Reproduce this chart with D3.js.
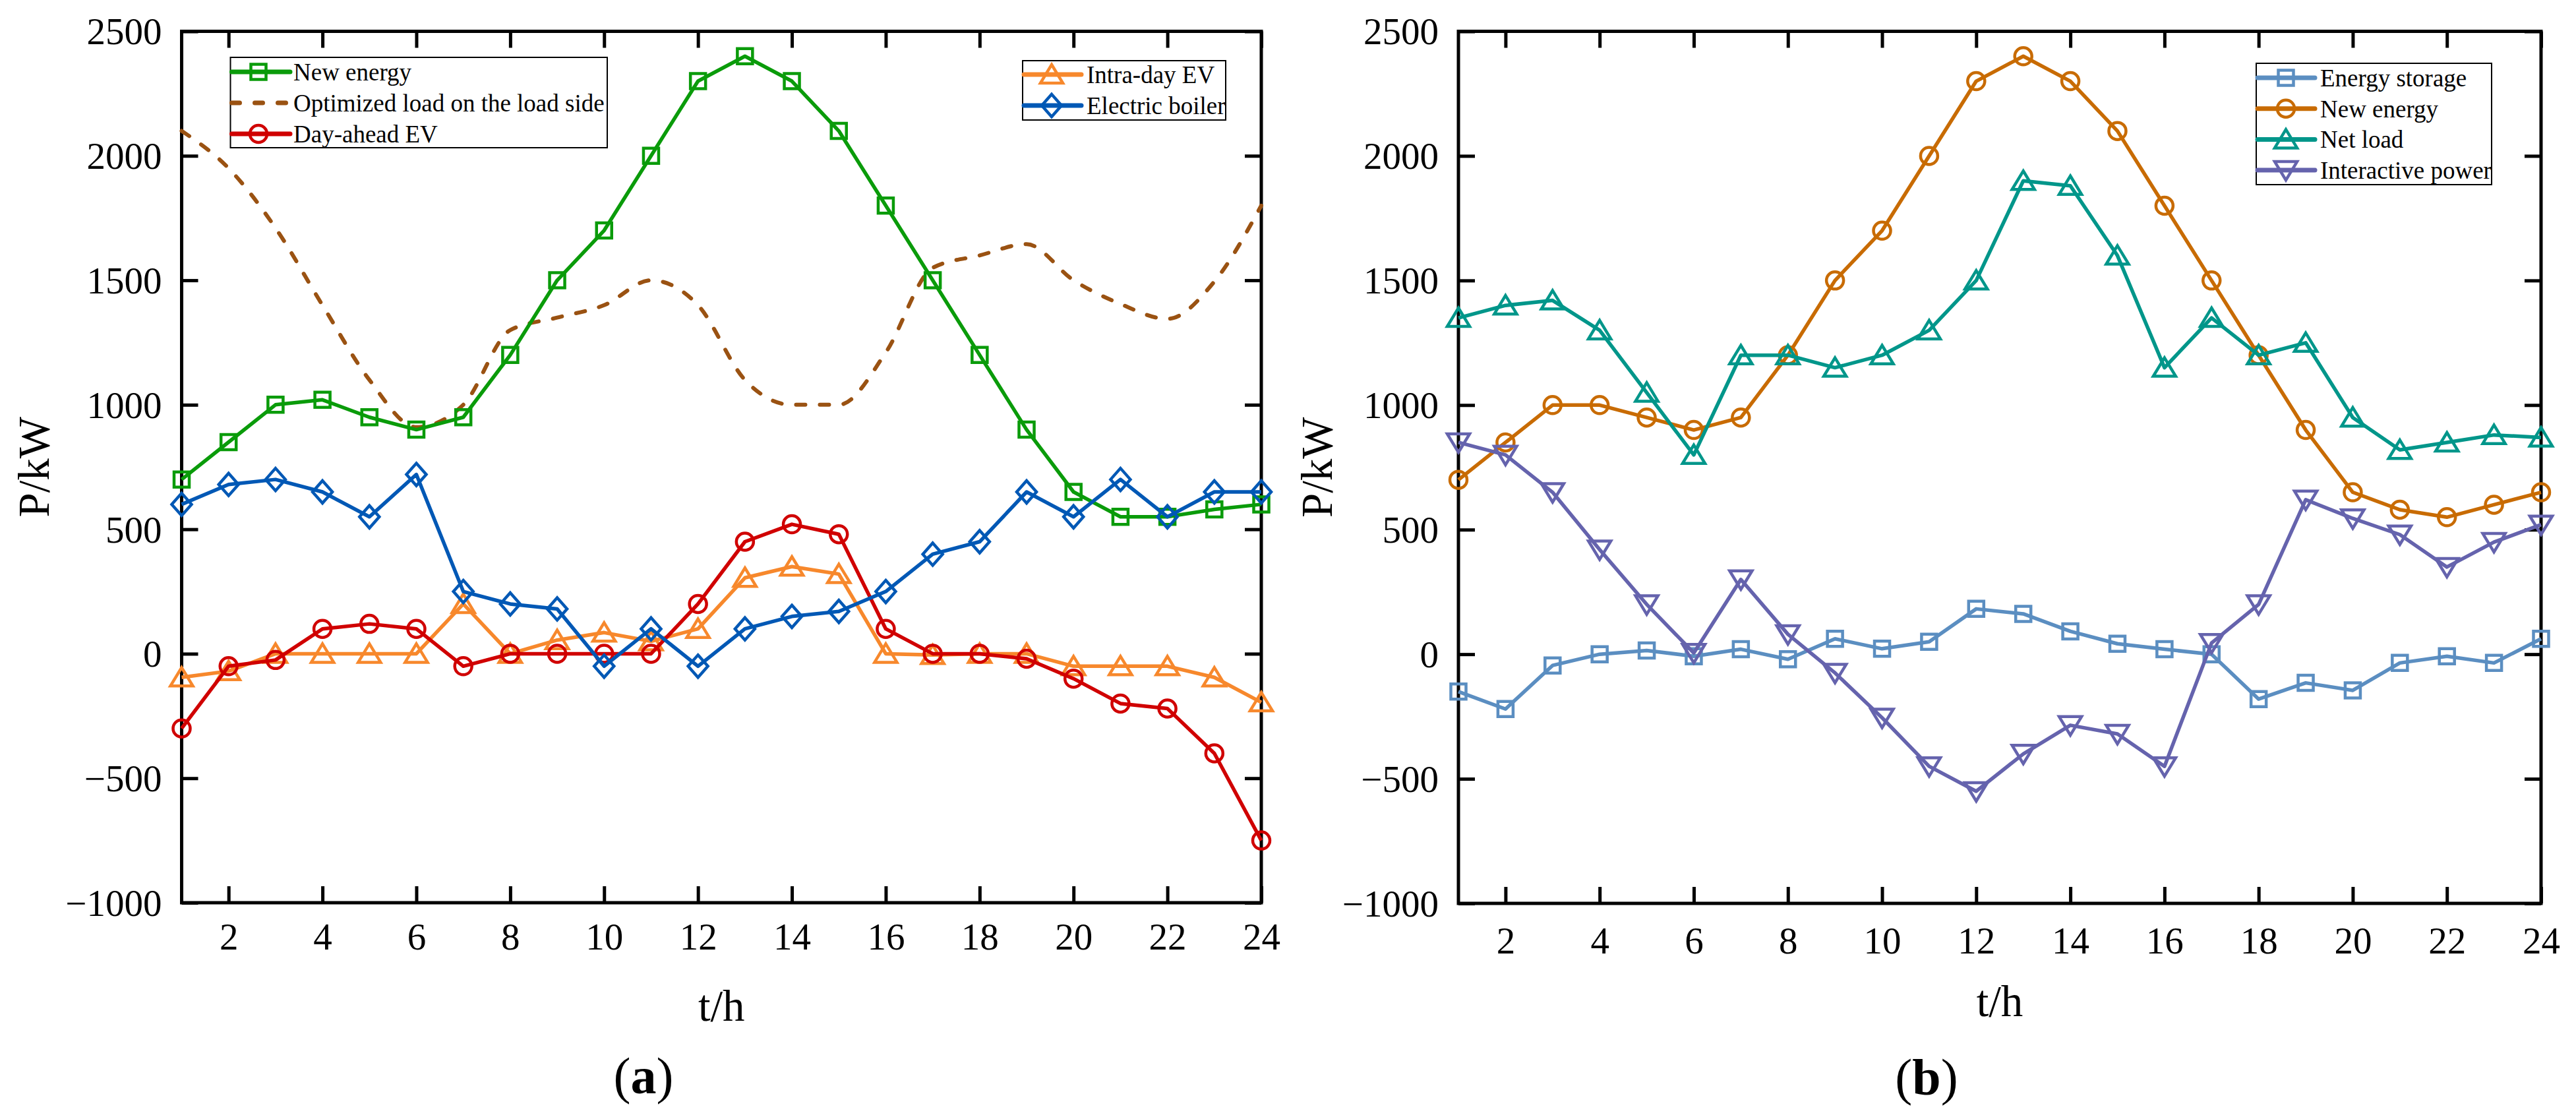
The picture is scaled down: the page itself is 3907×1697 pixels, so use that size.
<!DOCTYPE html>
<html>
<head>
<meta charset="utf-8">
<script src="https://cdn.jsdelivr.net/npm/d3@7"></script>
<style>
  body { margin: 0; background: #fff; }
  svg text { font-family: "Liberation Serif", "Times New Roman", "DejaVu Serif", serif !important; fill: #000; }
</style>
</head>
<body>
<div id="grafico"></div>
<script>
// Horas del día y marcas de los ejes
const horas = [1, 2, 3, 4, 5, 6, 7, 8, 9, 10, 11, 12, 13, 14, 15, 16, 17, 18, 19, 20, 21, 22, 23, 24];
const marcasX = [2, 4, 6, 8, 10, 12, 14, 16, 18, 20, 22, 24];
const marcasY = [-1000, -500, 0, 500, 1000, 1500, 2000, 2500];

// Panel (a)
const nuevaEnergiaA = [700, 850, 1000, 1020, 950, 900, 950, 1200, 1500, 1700, 2000, 2300, 2400, 2300, 2100, 1800, 1500, 1200, 900, 650, 550, 550, 580, 600];
const cargaOptimizada = [2100, 1950, 1710, 1400, 1100, 910, 1000, 1300, 1350, 1400, 1500, 1400, 1100, 1000, 1000, 1210, 1550, 1600, 1645, 1500, 1405, 1345, 1495, 1800];
const veDiaAnterior = [-300, -50, -25, 100, 120, 100, -50, 0, 0, 0, 0, 200, 450, 520, 480, 100, 0, 0, -20, -100, -200, -220, -400, -750];
const veIntradia = [-95, -70, 0, 0, 0, 0, 200, 0, 55, 85, 50, 100, 305, 350, 320, 0, -5, 0, 0, -50, -50, -50, -95, -195];
const calderaElectrica = [600, 680, 700, 650, 550, 720, 250, 200, 180, -50, 100, -50, 100, 150, 170, 250, 400, 450, 650, 550, 700, 550, 650, 650];

// Panel (b)
const almacenamiento = [-150, -220, -45, 0, 15, -8, 20, -20, 62, 22, 50, 182, 162, 92, 42, 20, 0, -180, -115, -145, -35, -8, -35, 62];
const nuevaEnergiaB = [700, 850, 1000, 1000, 950, 900, 950, 1200, 1500, 1700, 2000, 2300, 2400, 2300, 2100, 1800, 1500, 1200, 900, 650, 580, 550, 600, 650];
const cargaNeta = [1350, 1400, 1420, 1300, 1050, 800, 1200, 1200, 1150, 1200, 1300, 1500, 1900, 1880, 1600, 1150, 1350, 1200, 1250, 950, 820, 850, 880, 870];
const potenciaInteractiva = [850, 800, 650, 420, 200, 5, 300, 80, -75, -255, -450, -550, -400, -285, -320, -450, 45, 200, 620, 545, 480, 350, 450, 520];

const ancho = 3907;
const alto = 1697;
const fuente = "'Liberation Serif', 'Times New Roman', serif";

const svg = d3.select("#grafico")
    .append("svg")
    .attr("width", ancho)
    .attr("height", alto)
    .attr("font-family", fuente);

svg.append("rect").attr("width", ancho).attr("height", alto).attr("fill", "#fff");

// Formas de los marcadores (huecos)
function formaMarcador(tipo) {
    if (tipo === "cuadrado") return "M-11.5,-11.5H11.5V11.5H-11.5Z";
    if (tipo === "circulo") return "M13,0A13,13 0 1,1 -13,0A13,13 0 1,1 13,0Z";
    if (tipo === "triangulo") return "M0,-15L17,13L-17,13Z";
    if (tipo === "trianguloInv") return "M0,15L17,-13L-17,-13Z";
    if (tipo === "rombo") return "M0,-17L15,0L0,17L-15,0Z";
    return "";
}

function dibujarPanel(cfg) {
    const escalaX = d3.scaleLinear().domain([1, 24]).range([cfg.izq, cfg.der]);
    const escalaY = d3.scaleLinear().domain([-1000, 2500]).range([cfg.abajo, cfg.arriba]);
    const g = svg.append("g");

    // Ejes con marcas hacia dentro en los cuatro lados
    const ejeAbajo = g.append("g")
        .attr("transform", `translate(0,${cfg.abajo})`)
        .call(d3.axisBottom(escalaX).tickValues(marcasX).tickSize(-25).tickFormat(d => d));
    ejeAbajo.selectAll("text")
        .attr("y", cfg.baseX - cfg.abajo)
        .attr("dy", 0)
        .style("font-size", "57px");

    g.append("g")
        .attr("transform", `translate(0,${cfg.arriba})`)
        .call(d3.axisTop(escalaX).tickValues(marcasX).tickSize(-25).tickFormat(""));

    const ejeIzq = g.append("g")
        .attr("transform", `translate(${cfg.izq},0)`)
        .call(d3.axisLeft(escalaY).tickValues(marcasY).tickSize(-25)
            .tickFormat(d => String(d).replace("-", "\u2212")));
    ejeIzq.selectAll("text")
        .attr("x", -30)
        .attr("dy", "0.34em")
        .style("font-size", "57px");

    g.append("g")
        .attr("transform", `translate(${cfg.der},0)`)
        .call(d3.axisRight(escalaY).tickValues(marcasY).tickSize(-25).tickFormat(""));

    g.selectAll(".domain").remove();
    g.selectAll(".tick line").attr("stroke", "#000").attr("stroke-width", 5);
    g.selectAll("g").attr("font-family", fuente);

    g.append("rect")
        .attr("x", cfg.izq)
        .attr("y", cfg.arriba)
        .attr("width", cfg.der - cfg.izq)
        .attr("height", cfg.abajo - cfg.arriba)
        .attr("fill", "none")
        .attr("stroke", "#000")
        .attr("stroke-width", 5);

    // Series
    cfg.series.forEach(s => {
        const puntos = horas.map((h, i) => ({ h, v: s.valores[i] }));
        const linea = d3.line()
            .x(d => escalaX(d.h))
            .y(d => escalaY(d.v))
            .curve(s.suave ? d3.curveMonotoneX : d3.curveLinear);

        g.append("path")
            .datum(puntos)
            .attr("fill", "none")
            .attr("stroke", s.color)
            .attr("stroke-width", s.discontinua ? 6 : 5.5)
            .attr("stroke-linecap", s.discontinua ? "round" : "butt")
            .attr("stroke-linejoin", "round")
            .attr("stroke-dasharray", s.discontinua ? "14,22" : null)
            .attr("d", linea);

        if (s.marcador) {
            g.selectAll(null)
                .data(puntos)
                .enter()
                .append("path")
                .attr("transform", d => `translate(${escalaX(d.h)},${escalaY(d.v)})`)
                .attr("d", formaMarcador(s.marcador))
                .attr("fill", "none")
                .attr("stroke", s.color)
                .attr("stroke-width", 4.5);
        }
    });

    // Leyendas
    cfg.leyendas.forEach(ley => {
        g.append("rect")
            .attr("x", ley.x0)
            .attr("y", ley.y0)
            .attr("width", ley.x1 - ley.x0)
            .attr("height", ley.y1 - ley.y0)
            .attr("fill", "#fff")
            .attr("stroke", "#000")
            .attr("stroke-width", 2);

        const filas = g.selectAll(null)
            .data(ley.items)
            .enter()
            .append("g")
            .attr("transform", (d, i) => `translate(0,${ley.fila0 + i * ley.paso})`);

        filas.append("line")
            .attr("x1", ley.x0 + 2)
            .attr("x2", ley.xLinea)
            .attr("stroke", d => d.color)
            .attr("stroke-width", 7)
            .attr("stroke-linecap", "round")
            .attr("stroke-dasharray", d => d.discontinua ? "12,23" : null);

        filas.filter(d => d.marcador)
            .append("path")
            .attr("transform", `translate(${ley.xMarca},0)`)
            .attr("d", d => formaMarcador(d.marcador))
            .attr("fill", "none")
            .attr("stroke", d => d.color)
            .attr("stroke-width", 4.5);

        filas.append("text")
            .attr("x", ley.xTexto)
            .attr("y", 13)
            .attr("font-family", fuente)
            .style("font-size", "37px")
            .text(d => d.nombre);
    });

    // Títulos de los ejes y etiqueta del panel
    g.append("text")
        .attr("transform", `translate(${cfg.tituloYx},${(cfg.arriba + cfg.abajo) / 2}) rotate(-90)`)
        .attr("text-anchor", "middle")
        .attr("font-family", fuente)
        .style("font-size", "67px")
        .text("P/kW");

    g.append("text")
        .attr("x", (cfg.izq + cfg.der) / 2)
        .attr("y", cfg.tituloXy)
        .attr("text-anchor", "middle")
        .attr("font-family", fuente)
        .style("font-size", "67px")
        .text("t/h");

    const etiqueta = g.append("text")
        .attr("x", cfg.etiquetaX)
        .attr("y", cfg.etiquetaY)
        .attr("text-anchor", "middle")
        .attr("font-family", fuente)
        .style("font-size", "78px");
    etiqueta.append("tspan").text("(");
    etiqueta.append("tspan").style("font-weight", "bold").text(cfg.letra);
    etiqueta.append("tspan").text(")");
}

const serieNuevaA = { nombre: "New energy", valores: nuevaEnergiaA, color: "#0a9b0a", marcador: "cuadrado" };
const serieCarga = { nombre: "Optimized load on the load side", valores: cargaOptimizada, color: "#9a5212", discontinua: true, suave: true };
const serieDia = { nombre: "Day-ahead EV", valores: veDiaAnterior, color: "#d00000", marcador: "circulo" };
const serieIntra = { nombre: "Intra-day EV", valores: veIntradia, color: "#f7882c", marcador: "triangulo" };
const serieCaldera = { nombre: "Electric boiler", valores: calderaElectrica, color: "#0058b5", marcador: "rombo" };

dibujarPanel({
    izq: 275.5, der: 1913, arriba: 47.5, abajo: 1369,
    baseX: 1440, tituloYx: 74, tituloXy: 1548,
    etiquetaX: 976, etiquetaY: 1658, letra: "a",
    series: [serieCarga, serieNuevaA, serieIntra, serieDia, serieCaldera],
    leyendas: [
        { x0: 349.5, x1: 921, y0: 87, y1: 224, fila0: 109, paso: 47, xLinea: 440, xMarca: 392, xTexto: 445,
          items: [serieNuevaA, serieCarga, serieDia] },
        { x0: 1551, x1: 1859, y0: 92, y1: 182, fila0: 113, paso: 47, xLinea: 1640, xMarca: 1595, xTexto: 1648,
          items: [serieIntra, serieCaldera] }
    ]
});

const serieAlmac = { nombre: "Energy storage", valores: almacenamiento, color: "#5b8ec1", marcador: "cuadrado" };
const serieNuevaB = { nombre: "New energy", valores: nuevaEnergiaB, color: "#c86b02", marcador: "circulo" };
const serieNeta = { nombre: "Net load", valores: cargaNeta, color: "#00968a", marcador: "triangulo" };
const serieInter = { nombre: "Interactive power", valores: potenciaInteractiva, color: "#6563ad", marcador: "trianguloInv" };

dibujarPanel({
    izq: 2212, der: 3854, arriba: 47.5, abajo: 1370,
    baseX: 1446, tituloYx: 2020, tituloXy: 1541,
    etiquetaX: 2922, etiquetaY: 1660, letra: "b",
    series: [serieAlmac, serieNuevaB, serieNeta, serieInter],
    leyendas: [
        { x0: 3422, x1: 3779, y0: 96, y1: 280, fila0: 118, paso: 46.7, xLinea: 3511, xMarca: 3467, xTexto: 3519,
          items: [serieAlmac, serieNuevaB, serieNeta, serieInter] }
    ]
});
</script>
</body>
</html>
